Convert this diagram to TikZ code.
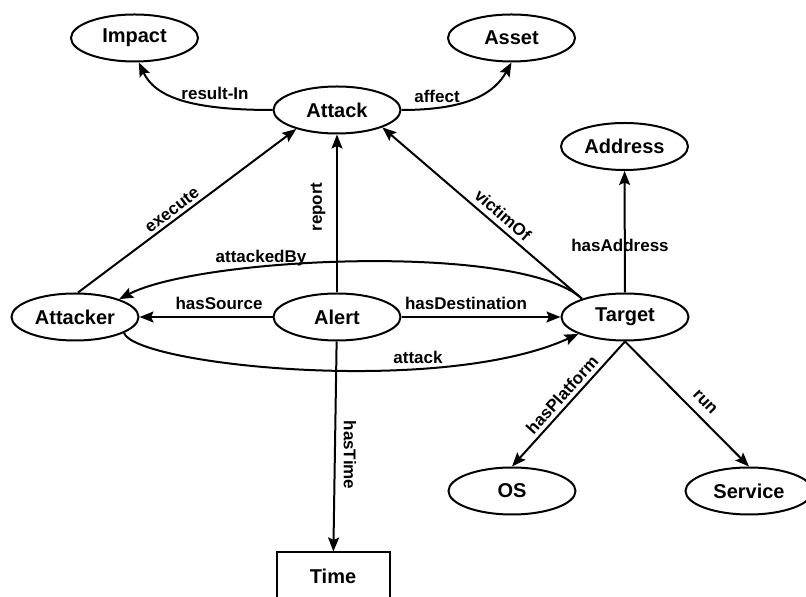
\documentclass[tikz,border=0pt]{standalone}
\usepackage{fontspec}
\setmainfont{Liberation Sans}
\usetikzlibrary{arrows.meta,shapes.geometric}
\begin{document}
\begin{tikzpicture}[x=1pt,y=1pt,
  concept/.style={ellipse, draw, line width=2pt, minimum width=127pt,
    minimum height=47pt, inner sep=0pt, font=\fontsize{20}{24}\selectfont\bfseries},
  valuebox/.style={rectangle, draw, line width=2pt, minimum width=113pt,
    minimum height=47pt, inner sep=0pt, font=\fontsize{20}{24}\selectfont\bfseries},
  rel/.style={line width=2pt, -{Stealth[length=14pt,width=11pt,inset=2.5pt]}},
  lab/.style={font=\fontsize{17}{20}\selectfont\bfseries, inner sep=0pt}]
\useasboundingbox (0,0) rectangle (806,597);

% concepts
\node[concept] (impact)   at (134.5,559) {Impact};
\node[concept] (asset)    at (511.5,559) {Asset};
\node[concept] (attack)   at (337,487)   {Attack};
\node[concept] (address)  at (624.5,450.5) {Address};
\node[concept] (attacker) at (75,280)    {Attacker};
\node[concept] (alert)    at (337,280)   {Alert};
\node[concept] (target)   at (625,280)   {Target};
\node[concept] (os)       at (512,106)   {OS};
\node[concept] (service)  at (749,106)   {Service};
\node[valuebox] (time)    at (333,21)    {Time};

% relations
\draw[rel] (attack.west) .. controls (190,487) and (155,500) .. (impact.280);
\draw[rel] (attack.east) .. controls (470,487) and (495,505) .. (asset.south);
\draw[rel] (attacker.83) -- (attack.205);
\draw[rel] (alert) -- (attack);
\draw[rel] (target.157) -- (attack.-21);
\draw[rel] (target) -- (address);
\draw[rel] (target.157) .. controls (520,355) and (200,340) .. (attacker.22);
\draw[rel] (alert) -- (attacker);
\draw[rel] (alert) -- (target);
\draw[rel] (attacker.-18) .. controls (135,232) and (440,200) .. (target.200);
\draw[rel] (alert) -- (time);
\draw[rel] (target.south) -- (os.north);
\draw[rel] (target.south) -- (service.north);

% relation names
\node[lab] (l-resultin)    at (215,504) {result-In};
\node[lab] (l-affect)      at (437,501) {affect};
\node[lab, rotate=37.4] (l-execute) at (172,387) {execute};
\node[lab, rotate=90]   (l-report)  at (318,390) {report};
\node[lab, rotate=-41]  (l-victimof) at (503,382) {victimOf};
\node[lab] (l-hasaddress)  at (620,352) {hasAddress};
\node[lab] (l-attackedby)  at (261,339) {attackedBy};
\node[lab] (l-hassource)   at (219,294) {hasSource};
\node[lab] (l-hasdest)     at (466,294) {hasDestination};
\node[lab] (l-attack)      at (418,240) {attack};
\node[lab, rotate=-90]  (l-hastime) at (350,142) {hasTime};
\node[lab, rotate=48]   (l-hasplatform) at (562,202) {hasPlatform};
\node[lab, rotate=-45.7] (l-run)    at (705,195) {run};
\end{tikzpicture}
\end{document}
